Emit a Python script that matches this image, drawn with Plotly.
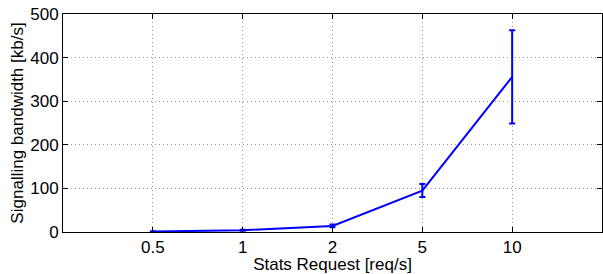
import plotly.graph_objects as go

categories = ["0.5", "1", "2", "5", "10"]
bandwidth = [1, 4, 14, 95, 356]
err = [0.5, 1, 3, 15, 107]

xpos = list(range(1, len(categories) + 1))

FONT = "Liberation Sans, Arial, sans-serif"

fig = go.Figure()
fig.add_trace(go.Scatter(
    x=xpos, y=bandwidth, mode="lines",
    line=dict(color="#0000ff", width=2),
    error_y=dict(type="data", array=err, visible=True, color="#0000ff", thickness=2, width=3),
    showlegend=False,
))

axis_common = dict(
    showline=True, linecolor="black", linewidth=1, mirror="ticks",
    ticks="inside", ticklen=5, tickcolor="black",
    showgrid=True, gridcolor="#999999", griddash="1px,3px", gridwidth=1,
    zeroline=False, automargin=False,
    tickfont=dict(family=FONT, size=17, color="black"),
)

fig.update_layout(
    width=603, height=274,
    margin=dict(l=63, r=1, t=14, b=42),
    paper_bgcolor="white", plot_bgcolor="white",
    font=dict(family=FONT, size=17, color="black"),
    xaxis=dict(
        range=[0, 6], tickvals=xpos, ticktext=categories,
        title=dict(text="Stats Request [req/s]", standoff=0, font=dict(size=17)),
        **axis_common,
    ),
    yaxis=dict(
        range=[0, 500], tickvals=[0, 100, 200, 300, 400, 500],
        title=dict(text="Signalling bandwidth [kb/s]", standoff=2, font=dict(size=17)),
        **axis_common,
    ),
)

fig.write_html(
    "out.html",
    config={"displayModeBar": False},
    post_script="document.body.style.margin='0';document.body.style.padding='0';",
)
